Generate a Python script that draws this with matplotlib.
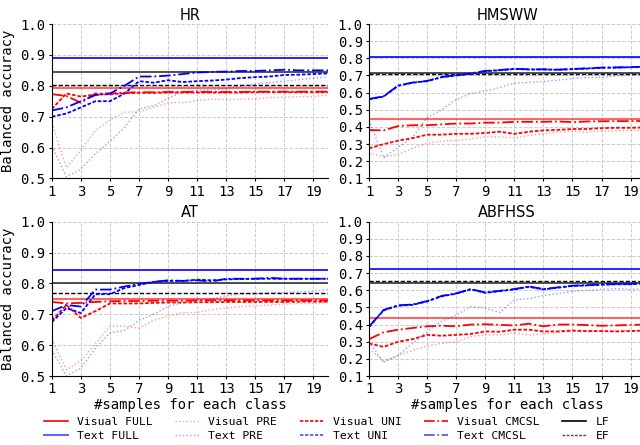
import numpy as np
import matplotlib
matplotlib.use('Agg')
import matplotlib.pyplot as plt
from matplotlib.lines import Line2D

x = np.arange(1, 21)
datasets = ['HR', 'HMSWW', 'AT', 'ABFHSS']

# horizontal reference lines (FULL baselines, late / early fusion)
visual_full = {'HR': 0.792, 'HMSWW': 0.444, 'AT': 0.748, 'ABFHSS': 0.438}
text_full = {'HR': 0.89, 'HMSWW': 0.805, 'AT': 0.844, 'ABFHSS': 0.725}
lf = {'HR': 0.846, 'HMSWW': 0.712, 'AT': 0.80, 'ABFHSS': 0.643}
ef = {'HR': 0.802, 'HMSWW': 0.710, 'AT': 0.769, 'ABFHSS': 0.652}

# few-shot curves, x = 1..20
visual_pre = {
    'HR': [0.68, 0.535, 0.59, 0.655, 0.69, 0.715, 0.715, 0.73, 0.745, 0.745,
           0.752, 0.757, 0.755, 0.757, 0.757, 0.762, 0.763, 0.765, 0.765, 0.77],
    'HMSWW': [0.25, 0.225, 0.24, 0.275, 0.305, 0.318, 0.322, 0.33, 0.342, 0.343,
              0.335, 0.35, 0.36, 0.37, 0.375, 0.37, 0.375, 0.378, 0.38, 0.382],
    'AT': [0.62, 0.52, 0.55, 0.605, 0.662, 0.662, 0.655, 0.68, 0.695, 0.705,
           0.706, 0.715, 0.72, 0.725, 0.727, 0.73, 0.733, 0.735, 0.735, 0.738],
    'ABFHSS': [0.26, 0.185, 0.22, 0.25, 0.275, 0.29, 0.30, 0.33, 0.34, 0.34,
               0.35, 0.34, 0.345, 0.355, 0.36, 0.36, 0.362, 0.362, 0.365, 0.365],
}
visual_uni = {
    'HR': [0.725, 0.775, 0.765, 0.772, 0.772, 0.776, 0.777, 0.777, 0.778, 0.778,
           0.778, 0.778, 0.778, 0.778, 0.779, 0.779, 0.779, 0.779, 0.779, 0.779],
    'HMSWW': [0.275, 0.30, 0.32, 0.335, 0.355, 0.355, 0.36, 0.36, 0.365, 0.372,
              0.36, 0.372, 0.38, 0.383, 0.388, 0.388, 0.393, 0.395, 0.395, 0.397],
    'AT': [0.68, 0.73, 0.688, 0.71, 0.735, 0.735, 0.735, 0.737, 0.738, 0.738,
           0.739, 0.739, 0.74, 0.74, 0.74, 0.74, 0.74, 0.741, 0.741, 0.741],
    'ABFHSS': [0.29, 0.27, 0.30, 0.315, 0.34, 0.335, 0.34, 0.345, 0.36, 0.358,
               0.37, 0.37, 0.36, 0.36, 0.365, 0.362, 0.362, 0.36, 0.362, 0.365],
}
visual_cmcsl = {
    'HR': [0.773, 0.767, 0.745, 0.775, 0.775, 0.778, 0.779, 0.779, 0.78, 0.78,
           0.78, 0.78, 0.78, 0.78, 0.781, 0.781, 0.781, 0.781, 0.781, 0.781],
    'HMSWW': [0.382, 0.38, 0.405, 0.41, 0.41, 0.415, 0.42, 0.42, 0.425, 0.425,
              0.43, 0.43, 0.43, 0.432, 0.428, 0.432, 0.433, 0.434, 0.434, 0.435],
    'AT': [0.74, 0.735, 0.737, 0.74, 0.742, 0.743, 0.743, 0.744, 0.744, 0.744,
           0.745, 0.745, 0.745, 0.745, 0.745, 0.745, 0.745, 0.745, 0.745, 0.745],
    'ABFHSS': [0.315, 0.355, 0.37, 0.38, 0.39, 0.393, 0.39, 0.40, 0.402, 0.398,
               0.395, 0.405, 0.39, 0.40, 0.40, 0.397, 0.393, 0.395, 0.398, 0.40],
}
text_pre = {
    'HR': [0.605, 0.505, 0.53, 0.58, 0.62, 0.665, 0.725, 0.735, 0.76, 0.78,
           0.785, 0.787, 0.79, 0.80, 0.805, 0.81, 0.815, 0.82, 0.825, 0.828],
    'HMSWW': [0.44, 0.222, 0.28, 0.34, 0.455, 0.50, 0.56, 0.595, 0.61, 0.63,
              0.655, 0.66, 0.665, 0.672, 0.683, 0.688, 0.69, 0.697, 0.703, 0.707],
    'AT': [0.585, 0.50, 0.525, 0.59, 0.64, 0.648, 0.68, 0.70, 0.725, 0.738,
           0.745, 0.75, 0.76, 0.765, 0.765, 0.77, 0.77, 0.772, 0.775, 0.78],
    'ABFHSS': [0.30, 0.18, 0.22, 0.29, 0.36, 0.42, 0.455, 0.505, 0.495, 0.47,
               0.545, 0.55, 0.57, 0.58, 0.595, 0.60, 0.605, 0.61, 0.605, 0.61],
}
text_uni = {
    'HR': [0.70, 0.71, 0.73, 0.75, 0.75, 0.775, 0.815, 0.81, 0.818, 0.812,
           0.815, 0.817, 0.82, 0.825, 0.828, 0.83, 0.835, 0.836, 0.838, 0.84],
    'HMSWW': [0.561, 0.577, 0.64, 0.658, 0.667, 0.69, 0.70, 0.71, 0.725, 0.73,
              0.738, 0.735, 0.735, 0.733, 0.737, 0.74, 0.745, 0.746, 0.748, 0.75],
    'AT': [0.675, 0.72, 0.704, 0.765, 0.765, 0.785, 0.795, 0.805, 0.808, 0.808,
           0.812, 0.81, 0.813, 0.814, 0.815, 0.815, 0.815, 0.815, 0.815, 0.815],
    'ABFHSS': [0.386, 0.483, 0.51, 0.515, 0.535, 0.565, 0.58, 0.605, 0.585, 0.595,
               0.605, 0.62, 0.605, 0.615, 0.625, 0.628, 0.632, 0.635, 0.635, 0.64],
}
text_cmcsl = {
    'HR': [0.72, 0.73, 0.75, 0.77, 0.775, 0.80, 0.83, 0.83, 0.833, 0.838,
           0.843, 0.845, 0.846, 0.848, 0.848, 0.85, 0.852, 0.85, 0.85, 0.85],
    'HMSWW': [0.563, 0.579, 0.641, 0.659, 0.668, 0.692, 0.701, 0.712, 0.727, 0.732,
              0.739, 0.736, 0.736, 0.734, 0.738, 0.742, 0.746, 0.747, 0.749, 0.751],
    'AT': [0.71, 0.73, 0.725, 0.78, 0.78, 0.79, 0.798, 0.805, 0.81, 0.808,
           0.81, 0.806, 0.815, 0.815, 0.815, 0.818, 0.815, 0.815, 0.815, 0.815],
    'ABFHSS': [0.388, 0.485, 0.512, 0.517, 0.537, 0.567, 0.582, 0.607, 0.587, 0.597,
               0.607, 0.622, 0.607, 0.617, 0.627, 0.63, 0.634, 0.637, 0.637, 0.642],
}
ylims = {'HR': (0.5, 1.0), 'HMSWW': (0.1, 1.0), 'AT': (0.5, 1.0), 'ABFHSS': (0.1, 1.0)}

mono = 'DejaVu Sans Mono'
fig, axes = plt.subplots(2, 2, figsize=(6.4, 4.45), dpi=100)
fig.subplots_adjust(left=0.081, right=1.008, top=0.946, bottom=0.155, wspace=0.149, hspace=0.28)

for ax, name in zip(axes.flat, datasets):
    ax.axhline(visual_full[name], color='red', alpha=0.6, lw=1.5)
    ax.axhline(text_full[name], color='blue', lw=1.2)
    ax.axhline(lf[name], color='black', alpha=0.8, lw=1.2)
    ax.axhline(ef[name], color='black', ls=(0, (3, 1.5)), lw=1.0)
    ax.plot(x, visual_pre[name], color='red', ls=':', alpha=0.4, lw=1.0)
    ax.plot(x, text_pre[name], color='blue', ls=':', alpha=0.4, lw=1.0)
    ax.plot(x, visual_uni[name], color='red', ls=(0, (2, 1)), lw=1.3)
    ax.plot(x, text_uni[name], color='blue', ls=(0, (2, 1)), lw=1.3)
    ax.plot(x, visual_cmcsl[name], color='red', ls='-.', lw=1.3)
    ax.plot(x, text_cmcsl[name], color='blue', ls='-.', lw=1.3)

    ax.set_xlim(1, 20)
    ax.set_ylim(*ylims[name])
    ax.set_xticks(range(1, 20, 2))
    yt = np.arange(ylims[name][0], 1.001, 0.1)
    ax.set_yticks(yt)
    ax.set_yticklabels([f'{v:.1f}' for v in yt])
    ax.tick_params(length=2.5, width=0.8, pad=2, labelsize=10)
    for lab in ax.get_xticklabels() + ax.get_yticklabels():
        lab.set_family(mono)
    ax.grid(True, ls='--', color='#cccccc', lw=0.7)
    ax.spines['top'].set_visible(False)
    ax.spines['right'].set_visible(False)
    ax.set_title(name, fontsize=10.5, pad=3)

for ax in axes[:, 0]:
    ax.set_ylabel('Balanced accuracy', family=mono, fontsize=10)
for ax in axes[1, :]:
    ax.set_xlabel('#samples for each class', family=mono, fontsize=10, labelpad=1)

handles = [
    Line2D([], [], color='red', lw=1.2),
    Line2D([], [], color='blue', alpha=0.6, lw=1.5),
    Line2D([], [], color='red', ls=':', alpha=0.4, lw=1.0),
    Line2D([], [], color='blue', ls=':', alpha=0.4, lw=1.0),
    Line2D([], [], color='red', ls=(0, (2, 1)), lw=1.2),
    Line2D([], [], color='blue', ls=(0, (2, 1)), alpha=0.7, lw=1.2),
    Line2D([], [], color='red', ls='-.', lw=1.2),
    Line2D([], [], color='blue', ls='-.', alpha=0.7, lw=1.2),
    Line2D([], [], color='black', lw=1.2),
    Line2D([], [], color='black', ls=(0, (2, 1)), alpha=0.7, lw=1.0),
]
labels = ['Visual FULL', 'Text FULL', 'Visual PRE', 'Text PRE', 'Visual UNI',
          'Text UNI', 'Visual CMCSL', 'Text CMCSL', 'LF', 'EF']
fig.legend(handles, labels, loc='lower center', ncol=5, bbox_to_anchor=(0.51, -0.015),
           frameon=False, prop={'family': mono, 'size': 8.2}, columnspacing=2.0,
           handlelength=2.1, handletextpad=0.8, labelspacing=0.4)

plt.savefig('out.png', dpi=100)
